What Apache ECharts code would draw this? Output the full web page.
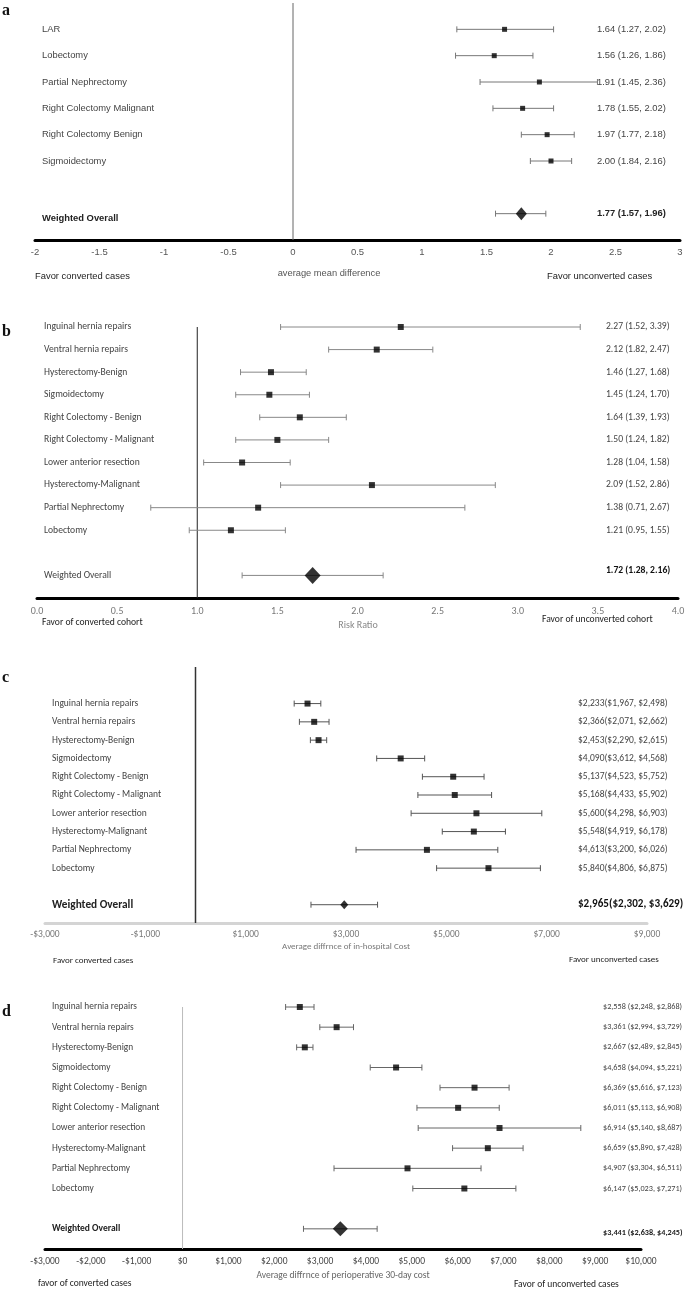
<!DOCTYPE html>
<html>
<head>
<meta charset="utf-8">
<script src="https://cdn.jsdelivr.net/npm/echarts@6/dist/echarts.min.js"></script>
<style>
html,body{margin:0;padding:0;background:#fff;}
#chart{width:685px;height:1290px;}
</style>
</head>
<body>
<div id="chart"></div>
<script>
// ---------- DATA ----------
const catsA = ['LAR','Lobectomy','Partial Nephrectomy','Right Colectomy Malignant','Right Colectomy Benign','Sigmoidectomy','Weighted Overall'];
const estA  = [1.64,1.56,1.91,1.78,1.97,2.00,1.77];
const lowA  = [1.27,1.26,1.45,1.55,1.77,1.84,1.57];
const highA = [2.02,1.86,2.36,2.02,2.18,2.16,1.96];

const catsB = ['Inguinal hernia repairs','Ventral hernia repairs','Hysterectomy-Benign','Sigmoidectomy','Right Colectomy - Benign','Right Colectomy - Malignant','Lower anterior resection','Hysterectomy-Malignant','Partial Nephrectomy','Lobectomy','Weighted Overall'];
const estB  = [2.27,2.12,1.46,1.45,1.64,1.50,1.28,2.09,1.38,1.21,1.72];
const lowB  = [1.52,1.82,1.27,1.24,1.39,1.24,1.04,1.52,0.71,0.95,1.28];
const highB = [3.39,2.47,1.68,1.70,1.93,1.82,1.58,2.86,2.67,1.55,2.16];

const catsC = catsB;
const estC  = [2233,2366,2453,4090,5137,5168,5600,5548,4613,5840,2965];
const lowC  = [1967,2071,2290,3612,4523,4433,4298,4919,3200,4806,2302];
const highC = [2498,2662,2615,4568,5752,5902,6903,6178,6026,6875,3629];

const catsD = catsB;
const estD  = [2558,3361,2667,4658,6369,6011,6914,6659,4907,6147,3441];
const lowD  = [2248,2994,2489,4094,5616,5113,5140,5890,3304,5023,2638];
const highD = [2868,3729,2845,5221,7123,6908,8687,7428,6511,7271,4245];

const titleA = 'average mean difference';
const titleB = 'Risk Ratio';
const titleC = 'Average diffrnce of in-hospital Cost';
const titleD = 'Average diffrnce of perioperative 30-day cost';

// ---------- HELPERS ----------
const ARIAL = "'Liberation Sans', Arial, sans-serif";
const CAL = "Carlito, Calibri, Lato, sans-serif";
const SERIF = "'Liberation Serif','DejaVu Serif',serif";

function money(v){ const s = '$' + Math.abs(v).toLocaleString('en-US'); return v < 0 ? '-' + s : s; }

function buildPanel(p, gi){
  const n = p.cats.length;
  const rows = [];
  for (let i=0;i<p.padTop;i++) rows.push('');
  const idx = [];
  for (let i=0;i<n-1;i++){ idx.push(rows.length); rows.push(i); }
  rows.push('');
  idx.push(rows.length); rows.push(n-1);
  rows.push('');
  const leftData = rows.map((r,k) => {
    if (r === '') return {value:' '.repeat(k+1)};
    if (r === n-1) return {value:p.cats[r], textStyle:p.wLeftStyle};
    return {value:p.cats[r]};
  });
  const rightData = rows.map((r,k) => {
    if (r === '') return {value:' '.repeat(k+1)};
    const txt = p.fmtCI(p.est[r], p.low[r], p.high[r]);
    if (r === n-1) return {value:txt, textStyle:p.wRightStyle};
    return {value:txt};
  });
  const grid = {left:p.grid[0], right:685-p.grid[1], top:p.grid[2], height:p.grid[3],
    containLabel:false, outerBoundsMode:'none'};
  const xAxis = {
    gridIndex:gi, type:'value', min:p.min, max:p.max, interval:p.interval,
    splitLine:{show:false}, axisTick:{show:false},
    axisLine:{show:true, onZero:false, lineStyle:{color:p.axisColor, width:p.axisWidth}},
    axisLabel:{color:p.tickColor, fontSize:p.tickSize, fontFamily:p.font, margin:p.tickMargin, formatter:p.tickFmt}
  };
  const yL = {
    gridIndex:gi, type:'category', data:leftData, inverse:true, boundaryGap:false, position:'left',
    axisLine:{show:false}, axisTick:{show:false}, splitLine:{show:false},
    axisLabel:{inside:true, interval:0, margin:7, align:'left', color:p.catColor, fontSize:p.catSize, fontFamily:p.font}
  };
  const yR = {
    gridIndex:gi, type:'category', data:rightData, inverse:true, boundaryGap:false, position:'right',
    axisLine:{show:false}, axisTick:{show:false}, splitLine:{show:false},
    axisLabel:{inside:true, interval:0, align:'left', margin:p.grid[1]-p.rightX, color:p.ciColor,
      fontSize:p.ciSize, fontFamily:p.font, overflow:'none', width:200}
  };
  const barData = idx.map((y,i)=>[p.low[i], p.high[i], y]);
  const ptData = idx.slice(0,n-1).map((y,i)=>[p.est[i], y]);
  const wData = [[p.est[n-1], idx[n-1]]];
  const cap = p.cap;
  const series = [
    {type:'line', xAxisIndex:gi, yAxisIndex:gi*2, data:[[p.ref,0],[p.ref,rows.length-1]],
      symbol:'none', silent:true, lineStyle:{color:p.refColor, width:p.refWidth}, z:1},
    {
      type:'custom', xAxisIndex:gi, yAxisIndex:gi*2, data:barData, silent:true,
      encode:{x:[0,1], y:2},
      renderItem:function(params, api){
        const a = api.coord([api.value(0), api.value(2)]);
        const b = api.coord([api.value(1), api.value(2)]);
        const st = {stroke:p.whiskColor, lineWidth:1};
        return {type:'group', children:[
          {type:'line', shape:{x1:a[0], y1:a[1], x2:b[0], y2:b[1]}, style:st},
          {type:'line', shape:{x1:a[0], y1:a[1]-cap, x2:a[0], y2:a[1]+cap}, style:st},
          {type:'line', shape:{x1:b[0], y1:b[1]-cap, x2:b[0], y2:b[1]+cap}, style:st}
        ]};
      },
      z:2
    },
    {type:'scatter', xAxisIndex:gi, yAxisIndex:gi*2, data:ptData, symbol:'rect', symbolSize:p.sq,
      itemStyle:{color:'#000'}, silent:true, z:3},
    {type:'scatter', xAxisIndex:gi, yAxisIndex:gi*2, data:wData, symbol:'diamond', symbolSize:p.dia,
      itemStyle:{color:'#000'}, silent:true, z:3}
  ];
  return {grid, xAxis, yAxes:[yL, yR], series};
}

const panels = [
  { cats:catsA, est:estA, low:lowA, high:highA, padTop:1,
    grid:[35,680,3,237], min:-2, max:3, interval:0.5, ref:0,
    font:ARIAL, axisColor:'#000', axisWidth:3, tickColor:'#555', tickSize:9.5, tickMargin:7,
    tickFmt:v=>String(v), catColor:'#444', catSize:9.4, ciColor:'#444', ciSize:9.4, rightX:597,
    wLeftStyle:{fontWeight:'bold', color:'#222', align:'left', verticalAlign:'top'},
    wRightStyle:{fontWeight:'bold', color:'#222', align:'left'},
    fmtCI:(e,l,h)=>e.toFixed(2)+' ('+l.toFixed(2)+', '+h.toFixed(2)+')',
    whiskColor:'#777', cap:3, refColor:'#666', refWidth:1, sq:5, dia:[11,13] },
  { cats:catsB, est:estB, low:lowB, high:highB, padTop:0,
    grid:[37,678,327,271], min:0, max:4, interval:0.5, ref:1,
    font:CAL, axisColor:'#000', axisWidth:3, tickColor:'#777', tickSize:10, tickMargin:8,
    tickFmt:v=>v.toFixed(1), catColor:'#444', catSize:9.6, ciColor:'#444', ciSize:9.6, rightX:606,
    wLeftStyle:{color:'#444', align:'left'},
    wRightStyle:{fontWeight:'bold', color:'#111', align:'left', verticalAlign:'bottom'},
    fmtCI:(e,l,h)=>e.toFixed(2)+' ('+l.toFixed(2)+', '+h.toFixed(2)+')',
    whiskColor:'#888', cap:3, refColor:'#222', refWidth:1, sq:6, dia:[16,17] },
  { cats:catsC, est:estC, low:lowC, high:highC, padTop:2,
    grid:[45,647,667,256], min:-3000, max:9000, interval:2000, ref:0,
    font:CAL, axisColor:'#d4d4d4', axisWidth:3, tickColor:'#777', tickSize:9.5, tickMargin:7,
    tickFmt:money, catColor:'#444', catSize:9.5, ciColor:'#444', ciSize:9.5, rightX:578,
    wLeftStyle:{fontWeight:'bold', color:'#222', fontSize:11.3, align:'left'},
    wRightStyle:{fontWeight:'bold', color:'#111', fontSize:11.1, align:'left'},
    fmtCI:(e,l,h)=>money(e)+'('+money(l)+', '+money(h)+')',
    whiskColor:'#555', cap:3, refColor:'#333', refWidth:1.5, sq:6, dia:[8,9] },
  { cats:catsD, est:estD, low:lowD, high:highD, padTop:0,
    grid:[45,641,1007,242], min:-3000, max:10000, interval:1000, ref:0,
    font:CAL, axisColor:'#000', axisWidth:3, tickColor:'#444', tickSize:9.5, tickMargin:8,
    tickFmt:money, catColor:'#444', catSize:9.35, ciColor:'#444', ciSize:8.2, rightX:603,
    wLeftStyle:{fontWeight:'bold', color:'#222', align:'left', fontSize:9.5},
    wRightStyle:{fontWeight:'bold', color:'#222', align:'left', verticalAlign:'top'},
    fmtCI:(e,l,h)=>money(e)+' ('+money(l)+', '+money(h)+')',
    whiskColor:'#666', cap:3, refColor:'#bbb', refWidth:1, sq:6, dia:[15,15] }
];

const built = panels.map((p,i)=>buildPanel(p,i));

function txt(x,y,t,opt){
  return {type:'text', left:x, top:y, silent:true,
    style:Object.assign({text:t, fill:'#222', font:'9.4px '+ARIAL}, opt||{})};
}
function ctext(cx,cy,t,font,fill){
  return {type:'text', x:cx, y:cy, silent:true,
    style:{text:t, fill:fill, font:font, textAlign:'center', textVerticalAlign:'middle'}};
}
function letter(x,y,t){
  return {type:'text', x:x, y:y, silent:true,
    style:{text:t, fill:'#111', font:'bold 16px '+SERIF, textAlign:'left', textVerticalAlign:'middle'}};
}

const graphics = [
  letter(2,11,'a'), letter(2,332,'b'), letter(2,678,'c'), letter(2,1012,'d'),
  ctext(329,273,titleA,'9.3px '+ARIAL,'#555'),
  txt(35,272,'Favor converted cases',{font:'9.4px '+ARIAL, fill:'#222'}),
  txt(547,272,'Favor unconverted cases',{font:'9.4px '+ARIAL, fill:'#222'}),
  ctext(358,625,titleB,'10px '+CAL,'#888'),
  txt(42,618,'Favor of converted cohort',{font:'9.6px '+CAL, fill:'#222'}),
  txt(542,615,'Favor of unconverted cohort',{font:'9.6px '+CAL, fill:'#222'}),
  ctext(346,947,titleC,'9px '+CAL,'#777'),
  txt(53,956,'Favor converted cases',{font:'9px '+CAL, fill:'#222'}),
  txt(569,955,'Favor unconverted cases',{font:'9px '+CAL, fill:'#222'}),
  ctext(343,1276,titleD,'9.5px '+CAL,'#666'),
  txt(38,1279,'favor of converted cases',{font:'9.5px '+CAL, fill:'#222'}),
  txt(514,1280,'Favor of unconverted cases',{font:'9.5px '+CAL, fill:'#222'})
];

const option = {
  backgroundColor:'#fff',
  animation:false,
  grid: built.map(b=>b.grid),
  xAxis: built.map(b=>b.xAxis),
  yAxis: built.flatMap(b=>b.yAxes),
  series: built.flatMap(b=>b.series),
  graphic: graphics
};

const chart = echarts.init(document.getElementById('chart'), null, {renderer:'canvas'});
chart.setOption(option);
</script>
</body>
</html>
